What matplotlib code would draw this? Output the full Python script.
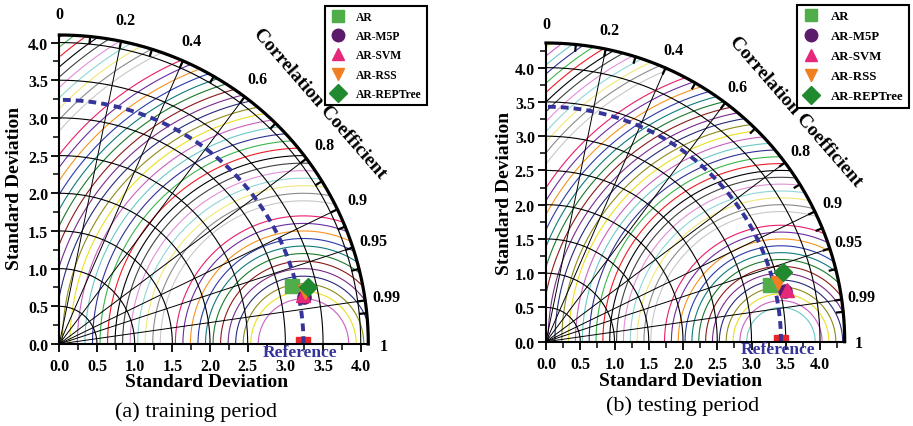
import numpy as np
import matplotlib.pyplot as plt
from matplotlib.lines import Line2D

plt.rcParams['font.family'] = ['Liberation Serif', 'DejaVu Serif']
plt.rcParams['font.weight'] = 'bold'

models = ['AR', 'AR-M5P', 'AR-SVM', 'AR-RSS', 'AR-REPTree']
markers = ['s', 'o', '^', 'v', 'D']
mcolors = ['#4fae4a', '#5c1a6c', '#e6287a', '#f07f22', '#21892f']

# training period
train_ref = 3.24
train_std = [3.18, 3.30, 3.30, 3.33, 3.39]
train_corr = [0.970, 0.982, 0.980, 0.978, 0.975]

# testing period
test_ref = 3.43
test_std = [3.37, 3.57, 3.60, 3.49, 3.61]
test_corr = [0.969, 0.978, 0.978, 0.969, 0.960]

corr_major = [0.2, 0.4, 0.6, 0.8, 0.9, 0.95, 0.99]
corr_minor = [0.1, 0.3, 0.5, 0.7, 0.85, 0.925, 0.97, 0.995]

# Origin-like colour list used for the RMS contours
palette = ['#000000', '#ee1c25', '#3ab54a', '#2e3192', '#6cc8c8', '#c860c0',
           '#ece020', '#8f8a1a', '#29297a', '#7a2a8a', '#8b1a1a', '#1a7a2a',
           '#0f7b7b', '#2a3aa8', '#f7941d', '#6a2ca0', '#ec1c6c', '#ffffff',
           '#c8c8c8', '#8a8a8a', '#f0e878', '#8fd6d6', '#e090d8', '#404040']


def taylor(ax, R, ref, stds, corrs, kmin, xlab_pos, ylab_pos):
    ax.set_xlim(0, R)
    ax.set_ylim(0, R)
    for s in ['top', 'right']:
        ax.spines[s].set_visible(False)
    for s in ['left', 'bottom']:
        ax.spines[s].set_linewidth(1.5)
        ax.spines[s].set_zorder(8)
    ticks = np.arange(0, R + 0.01, 0.5)
    ax.set_xticks(ticks)
    ax.set_yticks(ticks)
    ax.set_xticks(np.arange(0.25, R, 0.5), minor=True)
    ax.set_yticks(np.arange(0.25, R, 0.5), minor=True)
    ax.set_xticklabels(['%.1f' % t for t in ticks])
    ax.set_yticklabels(['%.1f' % t for t in ticks])
    ax.tick_params(which='major', direction='out', length=6, width=1.3,
                   labelsize=11.5, pad=4)
    ax.tick_params(axis='y', which='major', pad=2)
    ax.tick_params(which='minor', direction='out', length=4, width=1.1)

    # RMS contours around the reference point
    th = np.linspace(0, np.pi, 600)
    for k in range(kmin, 60):
        r = 0.1 * k
        x = ref + r * np.cos(th)
        y = r * np.sin(th)
        bad = (x ** 2 + y ** 2 > R ** 2) | (x < 0)
        x[bad] = np.nan
        y[bad] = np.nan
        ax.plot(x, y, color=palette[(k - 1) % 24], lw=0.8, zorder=1)

    # standard deviation arcs
    q = np.linspace(0, np.pi / 2, 300)
    for r in np.arange(0.5, R, 0.5):
        ax.plot(r * np.cos(q), r * np.sin(q), color='black', lw=0.8, zorder=2)

    # correlation lines and ticks
    for c in corr_major:
        a = np.arccos(c)
        ax.plot([0, R * np.cos(a)], [0, R * np.sin(a)], color='black', lw=0.7, zorder=2)
        ax.text((R + 0.29) * np.cos(a), (R + 0.29) * np.sin(a), str(c),
                ha='center', va='center', fontsize=11.5, clip_on=False)
    for c in corr_major + corr_minor:
        a = np.arccos(c)
        ax.plot([(R - 0.09) * np.cos(a), R * np.cos(a)],
                [(R - 0.09) * np.sin(a), R * np.sin(a)],
                color='black', lw=1.6, zorder=5, clip_on=False)
    ax.text(0, R + 0.28, '0', ha='center', va='center', fontsize=11.5)
    ax.text(R + 0.2, -0.02, '1', ha='center', va='center', fontsize=11.5)
    ax.plot(R * np.cos(q), R * np.sin(q), color='black', lw=2.3, zorder=6,
            clip_on=False)

    # reference
    ax.plot([ref], [0], 's', color='#e8262a', markersize=9.5, zorder=5)
    ax.plot(ref * np.cos(q), ref * np.sin(q), color='#34349a', lw=2.8,
            ls=(0, (2.0, 1.3)), zorder=6)
    ax.text(ref - 0.05, -0.1, 'Reference', color='#34349a', fontsize=12.5,
            ha='center', va='center', zorder=9)

    for i in range(len(models)):
        a = np.arccos(corrs[i])
        ax.plot(stds[i] * np.cos(a), stds[i] * np.sin(a), markers[i],
                color=mcolors[i], markersize=9.5, zorder=7, clip_on=False)

    ax.set_xlabel('Standard Deviation', fontsize=14, fontweight='bold')
    ax.set_ylabel('Standard Deviation', fontsize=14, fontweight='bold')
    ax.xaxis.set_label_coords(*xlab_pos)
    ax.yaxis.set_label_coords(*ylab_pos)
    ra = np.radians(42.8)
    ax.text((R + 0.6) * np.cos(ra), (R + 0.6) * np.sin(ra), 'Correlation Coefficient',
            rotation=-49, ha='center', va='center', fontsize=14,
            rotation_mode='anchor')


fig = plt.figure(figsize=(9.13, 4.27), dpi=100)
ax1 = fig.add_axes([59.3 / 913, (427 - 345) / 427, 309 / 913, 309 / 427])
ax2 = fig.add_axes([546 / 913, (427 - 342.7) / 427, 298.7 / 913, 298.7 / 427])

taylor(ax1, 4.1, train_ref, train_std, train_corr, 6, (0.477, -0.095), (-0.118, 0.508))
taylor(ax2, 4.36, test_ref, test_std, test_corr, 5, (0.449, -0.1), (-0.11, 0.50))

handles = [Line2D([], [], marker=markers[i], ls='none', color=mcolors[i],
                  markersize=9) for i in range(len(models))]
for x0, y0, fs in [(325 / 913, 1 - 6.7 / 427, 8.4), (797 / 913, 1 - 5.7 / 427, 9.2)]:
    leg = fig.legend(handles, models, loc='upper left', bbox_to_anchor=(x0, y0),
                     frameon=True, fancybox=False, edgecolor='black', framealpha=1,
                     prop=dict(family='Liberation Serif', weight='bold', size=fs),
                     labelspacing=0.62, handletextpad=0.9, borderpad=0.45,
                     handlelength=1.3, borderaxespad=0)
    leg.get_frame().set_linewidth(1.5)

fig.text(195.5 / 913, 1 - 412 / 427, '(a) training period', ha='center',
         va='center', fontsize=16, fontweight='normal')
fig.text(683 / 913, 1 - 406 / 427, '(b) testing period', ha='center',
         va='center', fontsize=16, fontweight='normal')

fig.savefig('out.png', dpi=100)
